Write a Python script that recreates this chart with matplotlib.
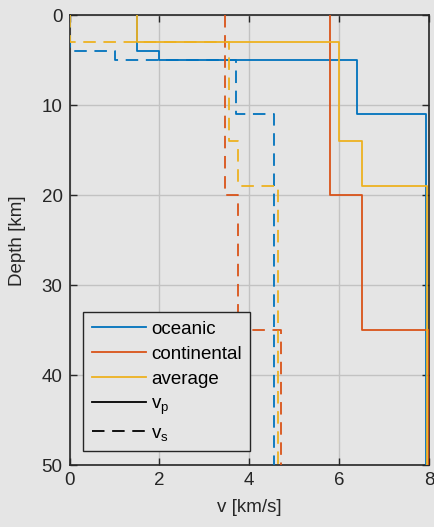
import numpy as np
import matplotlib
matplotlib.use("Agg")
import matplotlib.pyplot as plt
from matplotlib.lines import Line2D

# ---- data (layer boundaries in km, velocities in km/s) ----
oceanic_depth = [0, 4, 5, 11, 50]
oceanic_vp = [1.5, 2.0, 6.4, 7.93]
oceanic_vs = [0.0, 1.0, 3.7, 4.55]

continental_depth = [0, 20, 35, 50]
continental_vp = [5.8, 6.5, 8.0]
continental_vs = [3.45, 3.75, 4.7]

average_depth = [0, 3, 14, 19, 50]
average_vp = [1.5, 6.0, 6.5, 7.96]
average_vs = [0.0, 3.55, 3.75, 4.65]

model_names = ["oceanic", "continental", "average"]
x_ticks = [0, 2, 4, 6, 8]
y_ticks = [0, 10, 20, 30, 40, 50]

colors = ["#0072BD", "#D95319", "#EDB120"]

plt.rcParams['font.family'] = ['Liberation Sans', 'DejaVu Sans']
plt.rcParams['mathtext.fontset'] = 'custom'
plt.rcParams['mathtext.rm'] = 'Liberation Sans'
plt.rcParams['lines.scale_dashes'] = False

bg = "#e5e5e5"
fig = plt.figure(figsize=(4.35, 5.27), dpi=100, facecolor=bg)
ax = fig.add_axes([0.160, 0.117, 0.826, 0.854])
ax.set_facecolor(bg)

def stairs(depth, vel):
    d = np.asarray(depth, float)
    v = np.asarray(vel, float)
    return np.repeat(v, 2), np.repeat(d, 2)[1:-1]

models = [(oceanic_depth, oceanic_vp, oceanic_vs),
          (continental_depth, continental_vp, continental_vs),
          (average_depth, average_vp, average_vs)]

lw = 1.3
dash = (0, (9.0, 5.5))
for (d, vp, vs), c in zip(models, colors):
    x, y = stairs(d, vp)
    ax.plot(x, y, color=c, lw=lw, zorder=3)
for (d, vp, vs), c in zip(models, colors):
    x, y = stairs(d, vs)
    ax.plot(x, y, color=c, lw=lw, linestyle=dash, zorder=3)

ax.set_xlim(0, 8)
ax.set_ylim(50, 0)
ax.set_xticks(x_ticks)
ax.set_yticks(y_ticks)
ax.grid(True, color="#c2c2c2", lw=1.0, zorder=0)
ax.set_axisbelow(True)
ax.tick_params(direction='in', length=5, width=1.0, colors="#262626",
               labelsize=13.5, top=True, right=True, pad=5)
for s in ax.spines.values():
    s.set_color("#262626")
    s.set_linewidth(1.2)

ax.set_xlabel("v [km/s]", fontsize=13.5, color="#262626", labelpad=7)
ax.set_ylabel("Depth [km]", fontsize=13.5, color="#262626", labelpad=11)

handles = [Line2D([], [], color=c, lw=lw) for c in colors]
handles += [Line2D([], [], color="black", lw=lw),
            Line2D([], [], color="black", lw=lw, linestyle=(0, (9.0, 5.5)))]
labels = model_names + [r"$\mathregular{v_p}$", r"$\mathregular{v_s}$"]
leg = ax.legend(handles, labels, loc="lower left", bbox_to_anchor=(0.038, 0.032),
                fontsize=13.5, handlelength=2.9, handletextpad=0.25,
                labelspacing=0.42, borderpad=0.45, frameon=True, fancybox=False,
                framealpha=1.0, borderaxespad=0)
leg.get_frame().set_facecolor(bg)
leg.get_frame().set_edgecolor("#262626")
leg.get_frame().set_linewidth(1.0)
leg.set_zorder(5)

fig.savefig("out.png", dpi=100, facecolor=bg)
